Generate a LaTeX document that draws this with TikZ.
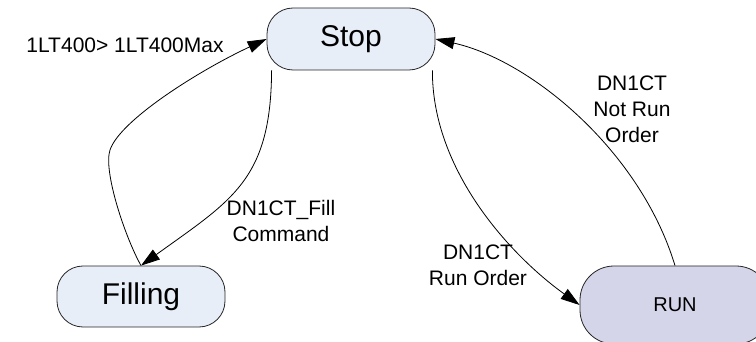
\documentclass[tikz,border=0pt]{standalone}
\usepackage{fontspec}
\setmainfont{Liberation Sans}
\usetikzlibrary{arrows.meta,calc}
\pgfdeclarelayer{bg}
\pgfsetlayers{bg,main}
\definecolor{stateblue}{HTML}{E8EEF8}
\definecolor{statelav}{HTML}{D5D5EA}
\tikzset{
  state/.style={draw=black!85, line width=0.8pt, rounded corners=26pt,
    minimum width=168pt, minimum height=62pt, inner sep=0pt, fill=stateblue,
    font=\fontsize{30}{34}\selectfont},
  runstate/.style={state, fill=statelav, rounded corners=34pt,
    minimum width=190pt, minimum height=78pt, font=\fontsize{20}{24}\selectfont},
  trans/.style={draw=black, line width=0.8pt, -{Triangle[length=19pt,width=12pt]}},
  lbl/.style={inner sep=0pt, align=center, font=\fontsize{21}{26}\selectfont}
}
\begin{document}
\begin{tikzpicture}[x=1pt, y=-1pt]
\useasboundingbox (0,0) rectangle (756,342);

% states
\node[state] (stop) at (351,39) {Stop};
\node[state, minimum height=61pt] (filling) at (141,296.5) {Filling};
\node[runstate] (run) at (675,305) {RUN};

% transition labels
\node[lbl] (l1) at (125,45) {1LT400> 1LT400Max};
\node[lbl] (l2) at (281,221) {DN1CT\_Fill\\Command};
\node[lbl] (l3) at (632,109) {DN1CT\\Not Run\\Order};
\node[lbl] (l4) at (478,265) {DN1CT\\Run Order};

% transitions, kept under the states
\begin{pgfonlayer}{bg}
  % Filling -> Stop
  \draw[trans] (filling.north)
    .. controls (125,237) and (103,171) .. (110,150)
    .. controls (120,120) and (200,70) .. (stop.west);
  % Stop -> Filling
  \draw[trans] ([xshift=5pt]stop.south west)
    .. controls (271,180) and (232,200) .. (filling.north);
  % Stop -> RUN
  \draw[trans] ([xshift=-3pt]stop.south east)
    .. controls (432,170) and (510,255) .. (run.west);
  % RUN -> Stop
  \draw[trans] (run.north)
    .. controls (640,150) and (530,60) .. (stop.east);
\end{pgfonlayer}
\end{tikzpicture}
\end{document}
